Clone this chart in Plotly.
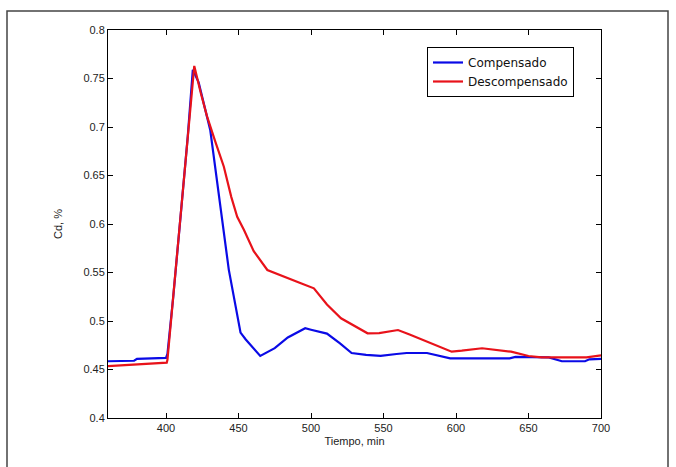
import plotly.graph_objects as go

# Compensado (blue)
comp_x = [360, 378, 380, 400, 401, 405, 410, 415, 418.5, 422.5, 430.5, 437.6, 443.3, 451.4, 455, 465,
          475, 484, 496, 500, 505, 511, 520, 528, 538, 548, 559, 566, 580, 586, 596, 637, 641,
          664, 673, 689, 692, 700]
comp_y = [0.4585, 0.459, 0.461, 0.462, 0.466, 0.525, 0.607, 0.690, 0.759, 0.746, 0.697, 0.614,
          0.553, 0.488, 0.481, 0.464, 0.472, 0.483, 0.4925, 0.491, 0.489, 0.487, 0.477, 0.467,
          0.465, 0.464, 0.466, 0.467, 0.467, 0.465, 0.4615, 0.4615, 0.463, 0.4625, 0.4585,
          0.4585, 0.4605, 0.461]

# Descompensado (red)
desc_x = [360, 380, 390, 400.5, 401, 405, 410, 415, 419.5, 424, 428.3, 434, 439.9, 445, 449.1,
          453.7, 460.5, 469.9, 479, 493, 502, 511, 520.7, 529, 539, 547, 560, 568, 580, 597,
          604, 618, 638, 650, 659, 690, 700]
desc_y = [0.4535, 0.455, 0.4565, 0.457, 0.460, 0.525, 0.607, 0.690, 0.763, 0.735, 0.711, 0.685,
          0.659, 0.628, 0.6075, 0.594, 0.572, 0.5526, 0.547, 0.539, 0.5337, 0.517, 0.5028, 0.496,
          0.4873, 0.4875, 0.4907, 0.486, 0.479, 0.4684, 0.4694, 0.4719, 0.4684, 0.4639, 0.4626,
          0.4626, 0.4645]

x_ticks = [400, 450, 500, 550, 600, 650, 700]
y_ticks = [0.4, 0.45, 0.5, 0.55, 0.6, 0.65, 0.7, 0.75, 0.8]

fig = go.Figure()
fig.add_trace(go.Scatter(x=comp_x, y=comp_y, mode="lines", name="Compensado",
                         line=dict(color="#0a0ae6", width=2.2)))
fig.add_trace(go.Scatter(x=desc_x, y=desc_y, mode="lines", name="Descompensado",
                         line=dict(color="#e8121a", width=2.2)))

axis_common = dict(showline=True, linecolor="black", linewidth=1, mirror="ticks",
                   ticks="inside", ticklen=5, tickcolor="black", showgrid=False,
                   zeroline=False, tickfont=dict(family="Liberation Sans", size=11, color="#222"))

fig.update_xaxes(range=[360, 700], tickvals=x_ticks,
                 title=dict(text="Tiempo, min", font=dict(family="Liberation Sans", size=11, color="#222"),
                            standoff=4),
                 **axis_common)
fig.update_yaxes(range=[0.4, 0.8], tickvals=y_ticks,
                 title=dict(text="Cd, %", font=dict(family="Liberation Sans", size=11, color="#222"),
                            standoff=18),
                 **axis_common)

# outer figure frame
fig.add_shape(type="rect", xref="paper", yref="paper",
              x0=(7 - 108) / 493, x1=(668 - 108) / 493, y0=-0.3, y1=1 + (30 - 11) / 388,
              line=dict(color="#444", width=1.5), layer="below")

fig.update_layout(
    width=676, height=467, autosize=False,
    margin=dict(l=108, r=75, t=30, b=49),
    paper_bgcolor="white", plot_bgcolor="white",
    legend=dict(x=(574 - 108) / 493, y=1 - (47 - 30) / 388, xanchor="right", yanchor="top",
                bgcolor="white", bordercolor="black", borderwidth=1,
                font=dict(family="DejaVu Sans", size=12, color="#111"),
                tracegroupgap=0),
    showlegend=True,
)

fig.write_html("out.html")
